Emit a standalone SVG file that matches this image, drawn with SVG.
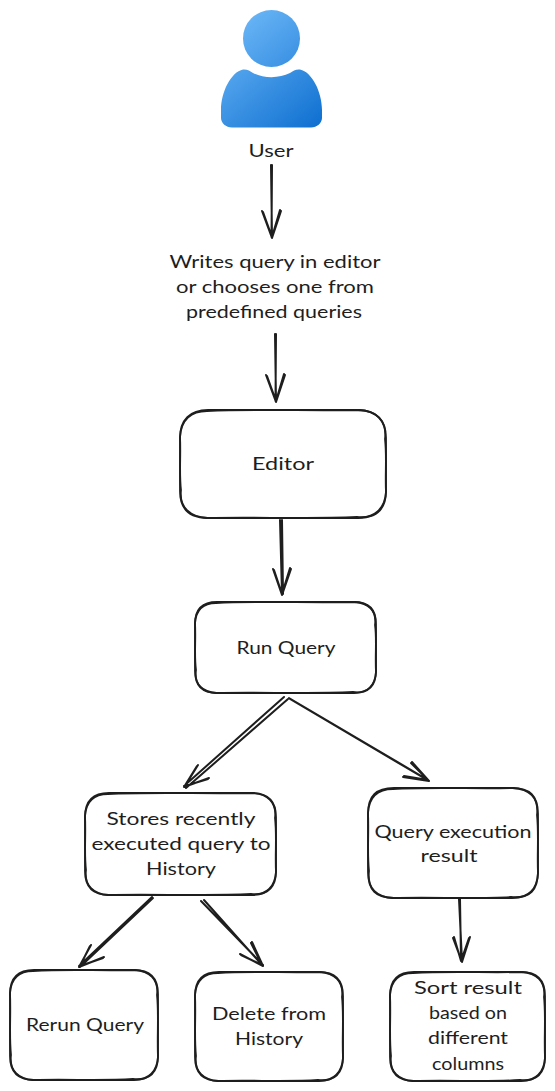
<svg xmlns="http://www.w3.org/2000/svg" width="555" height="1091" viewBox="0 0 555 1091">
<style>
.b{fill:none;stroke:#1e1e1e;stroke-width:1.8;stroke-linecap:round;stroke-linejoin:round}
.c{fill:none;stroke:#1e1e1e;stroke-width:2;stroke-linecap:round;stroke-linejoin:round}
text{font-family:"Lato","Noto Sans",sans-serif;font-size:18px;fill:#1e1e1e;text-anchor:middle}
</style>
<defs>
<linearGradient id="g" gradientUnits="userSpaceOnUse" x1="225" y1="15" x2="320" y2="128">
<stop offset="0" stop-color="#72bcfa"/><stop offset="1" stop-color="#0e6fd0"/>
</linearGradient>
</defs>
<rect width="555" height="1091" fill="#fff"/>
<g id="user">
<circle cx="271.5" cy="38.5" r="28.5" fill="url(#g)"/>
<path fill="url(#g)" d="M243 69.5C247 69 250 71 253 73C264 78.500 279 78.500 290 73C293 71 296 69 300 69.500C312 72 322 92 322 110V118C322 123 317 127.500 311 127.500H232C226 127.500 221 123 221 118V110C221 92 231 72 243 69.500Z"/>
<text x="271" y="157" textLength="45" lengthAdjust="spacingAndGlyphs">User</text>
</g>
<g id="writes">
<text x="275" y="268" textLength="211" lengthAdjust="spacingAndGlyphs">Writes query in editor</text>
<text x="275" y="293" textLength="198" lengthAdjust="spacingAndGlyphs">or chooses one from</text>
<text x="274" y="318" textLength="176" lengthAdjust="spacingAndGlyphs">predefined queries</text>
</g>
<g id="editor">
<path class="b" d="M208 410H358C376 410 386 420 386 438V491C386 509 376 518 358 518H208C190 518 180 509 180 491V438C180 420 190 410 208 410Z"/>
<path class="b" d="M207 411C260 409 310 411 359 410C377 411 387 421 385 439C387 458 385 475 386 492C385 508 375 519 357 517C310 519 255 517 207 518C191 517 179 508 181 490C179 472 181 455 180 437C181 420 191 411 207 411Z"/>
<text x="283" y="470" textLength="62" lengthAdjust="spacingAndGlyphs">Editor</text>
</g>
<g id="runquery">
<path class="b" d="M217 602H354C369 602 376 609 376 624V671C376 686 369 693 354 693H217C202 693 195 686 195 671V624C195 609 202 602 217 602Z"/>
<path class="b" d="M216 603C260 601 310 603 355 602C368 603 377 610 375 625C377 640 375 655 376 672C375 685 368 694 353 692C310 694 260 692 216 693C203 692 194 685 196 670C194 655 196 640 195 623C196 610 203 603 216 603Z"/>
<text x="286" y="654" textLength="99" lengthAdjust="spacingAndGlyphs">Run Query</text>
</g>
<g id="stores">
<path class="b" d="M109 793H252C268 793 276 801 276 817V871C276 887 268 895 252 895H109C93 895 85 887 85 871V817C85 801 93 793 109 793Z"/>
<path class="b" d="M108 794C150 792 210 794 253 793C267 794 277 802 275 818C277 836 275 855 276 872C275 886 267 896 251 894C210 896 150 894 108 895C94 894 84 886 86 870C84 852 86 835 85 816C86 802 94 794 108 794Z"/>
<text x="181" y="825" textLength="149" lengthAdjust="spacingAndGlyphs">Stores recently</text>
<text x="181" y="850" textLength="179" lengthAdjust="spacingAndGlyphs">executed query to</text>
<text x="181" y="875" textLength="70" lengthAdjust="spacingAndGlyphs">History</text>
</g>
<g id="result">
<path class="b" d="M394 788H512C530 788 538 796 538 814V872C538 890 530 898 512 898H394C376 898 368 890 368 872V814C368 796 376 788 394 788Z"/>
<path class="b" d="M393 789C430 787 480 789 513 788C529 789 539 797 537 815C539 835 537 855 538 873C537 889 529 899 511 897C480 899 430 897 393 898C377 897 367 889 369 871C367 852 369 833 368 813C369 797 377 789 393 789Z"/>
<text x="453" y="838" textLength="157" lengthAdjust="spacingAndGlyphs">Query execution</text>
<text x="449" y="862" textLength="57" lengthAdjust="spacingAndGlyphs">result</text>
</g>
<g id="rerun">
<path class="b" d="M34 970H134C150 970 158 978 158 994V1056C158 1072 150 1080 134 1080H34C18 1080 10 1072 10 1056V994C10 978 18 970 34 970Z"/>
<path class="b" d="M33 971C70 969 100 971 135 970C149 971 159 979 157 995C159 1015 157 1037 158 1057C157 1071 149 1081 133 1079C100 1081 70 1079 33 1080C19 1079 9 1071 11 1055C9 1035 11 1015 10 993C11 979 19 971 33 971Z"/>
<text x="85" y="1031" textLength="118" lengthAdjust="spacingAndGlyphs">Rerun Query</text>
</g>
<g id="delete">
<path class="b" d="M219 972H319C335 972 343 980 343 996V1057C343 1073 335 1081 319 1081H219C203 1081 195 1073 195 1057V996C195 980 203 972 219 972Z"/>
<path class="b" d="M218 973C250 971 290 973 320 972C334 973 344 981 342 997C344 1017 342 1037 343 1058C342 1072 334 1082 318 1080C290 1082 250 1080 218 1081C204 1080 194 1072 196 1056C194 1036 196 1016 195 995C196 981 204 973 218 973Z"/>
<text x="269" y="1020" textLength="114" lengthAdjust="spacingAndGlyphs">Delete from</text>
<text x="269" y="1045" textLength="68" lengthAdjust="spacingAndGlyphs">History</text>
</g>
<g id="sort">
<path class="b" d="M414 972H521C537 972 545 980 545 996V1057C545 1073 537 1081 521 1081H414C398 1081 390 1073 390 1057V996C390 980 398 972 414 972Z"/>
<path class="b" d="M413 973C450 971 490 973 522 972C536 973 546 981 544 997C546 1017 544 1037 545 1058C544 1072 536 1082 520 1080C490 1082 450 1080 413 1081C399 1080 389 1072 391 1056C389 1036 391 1016 390 995C391 981 399 973 413 973Z"/>
<text x="468" y="994" textLength="108" lengthAdjust="spacingAndGlyphs">Sort result</text>
<text x="468" y="1019" textLength="78" lengthAdjust="spacingAndGlyphs">based on</text>
<text x="468" y="1044" textLength="80" lengthAdjust="spacingAndGlyphs">different</text>
<text x="468" y="1070" textLength="72" lengthAdjust="spacingAndGlyphs">columns</text>
</g>
<g id="connectors">
<path class="c" d="M271 165L272 237M272 165L271.500 237M262 211L272 238L281 211M263 212L272 237L280 210"/>
<path class="c" d="M275 334L276 401M276 334L275.500 401M266 375L276 402L285 375M267 376L276 401L284 374"/>
<path class="c" d="M280 520L282 594M282 520L283 594M273 569L282 595L291 569M274 570L282 594L290 568"/>
<path class="c" d="M284 697L184 786M288 699L186 788M197 766L184 787L209 778M198 765L185 786L208 779"/>
<path class="c" d="M289 698L428 780M290 699L429 781M412 762L429 781L403 777M411 763L428 780L404 776"/>
<path class="c" d="M152 897L79 966M153 898L80 967M91 945L79 967L104 957M90 946L80 966L103 958"/>
<path class="c" d="M201 901L263 965M204 900L263 966M252 942L263 966L240 954M251 943L262 965L241 955"/>
<path class="c" d="M459 899L462 961M460 899L461 961M453 938L462 962L470 937M454 937L461 961L469 938"/>
</g>
</svg>
